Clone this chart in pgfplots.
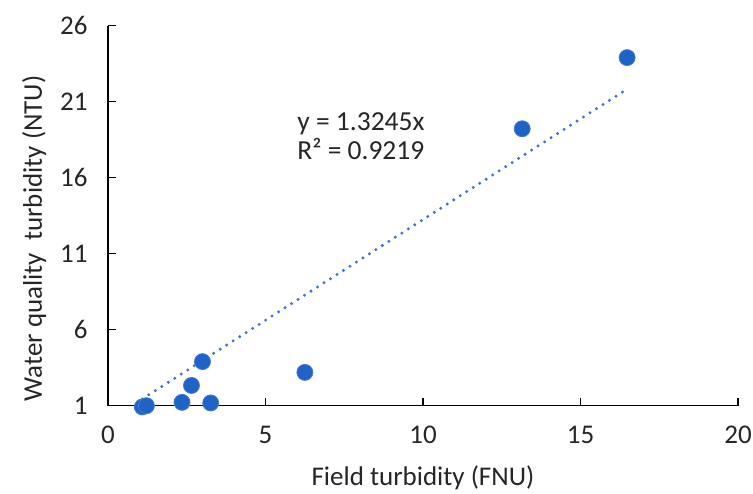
\documentclass[border=0pt]{standalone}
\usepackage{fontspec}
\setmainfont{Carlito}
\usepackage{pgfplots}
\pgfplotsset{compat=1.18}
\definecolor{ptblue}{RGB}{31,99,198}
\definecolor{trendblue}{RGB}{68,114,196}
\definecolor{txt}{RGB}{38,38,38}

\pgfplotstableread{
x y
1.09 0.92
1.22 1.00
2.35 1.22
2.65 2.33
3.00 3.90
3.26 1.18
6.25 3.19
13.15 19.22
16.48 23.90
}\turbdata

\begin{document}
\begin{tikzpicture}
\begin{axis}[
    scale only axis,
    width=630pt, height=380pt,
    xmin=0, xmax=20, ymin=1, ymax=26,
    xtick={0,5,10,15,20},
    ytick={1,6,11,16,21,26},
    axis lines=left,
    axis line style={-, black, line width=1.4pt},
    tick style={black, line width=1.4pt},
    tickwidth=8pt,
    tick align=inside,
    font=\fontsize{27}{31}\selectfont,
    /pgf/number format/assume math mode=true,
    ticklabel style={text=txt},
    xticklabel style={yshift=-17pt},
    yticklabel style={xshift=-17pt},
    xlabel={Field turbidity (FNU)},
    ylabel={Water quality\ \ turbidity (NTU)},
    xlabel style={at={(axis description cs:0.5,-0.19)}, anchor=center, text=txt},
    ylabel style={at={(axis description cs:-0.117,0.44)}, anchor=center, text=txt},
    clip=false,
]
    % linear trendline through origin, y = 1.3245x, over the data range
    \addplot[trendblue, line width=3.3pt, line cap=round,
             dash pattern=on 0pt off 7.7pt] coordinates {(1.09,1.444) (16.48,21.83)};
    \addplot[only marks, mark=*, mark size=8pt,
             mark options={fill=ptblue, draw=ptblue!85!white, line width=0.8pt}]
        table[x=x, y=y] {\turbdata};
    \node[anchor=west, align=left, text=txt, font=\fontsize{27.5}{29}\selectfont]
        at (axis cs:5.9,18.75) {y = 1.3245x\\R² = 0.9219};
\end{axis}
\pgfresetboundingbox
\useasboundingbox (-108pt,-88.3pt) rectangle (645pt,405.7pt);
\end{tikzpicture}
\end{document}
